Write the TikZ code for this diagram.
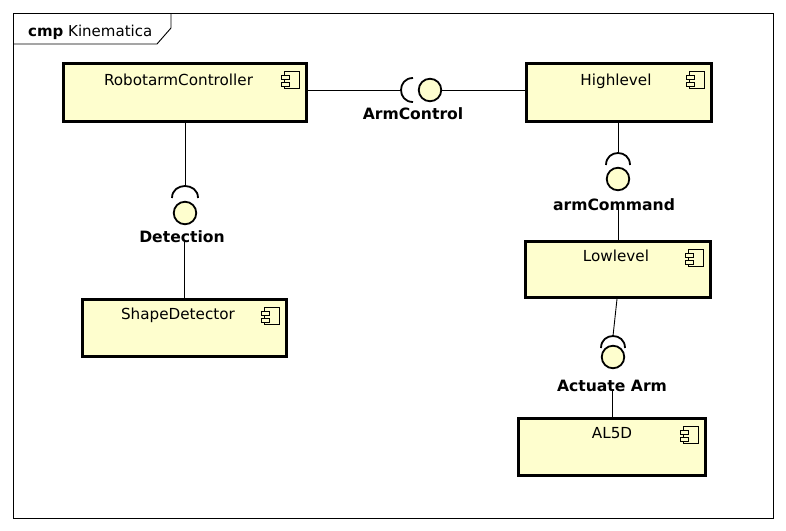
\documentclass[tikz,border=0pt]{standalone}
\usepackage{fontspec}
\setmainfont{DejaVu Sans}
\usetikzlibrary{calc}
\definecolor{compfill}{HTML}{FEFECE}
\tikzset{
  frameline/.style={draw=black, line width=0.9pt},
  compbox/.style={draw=black, line width=3pt, fill=compfill, rectangle, inner sep=0pt},
  compname/.style={font=\fontsize{15.2}{17}\selectfont, anchor=base, inner sep=0pt},
  iflabel/.style={font=\bfseries\fontsize{15.6}{17}\selectfont, anchor=base, inner sep=1pt},
  ball/.style={circle, draw=black, line width=1.8pt, fill=compfill, minimum size=22.5pt, inner sep=0pt},
  socketline/.style={draw=black, line width=1.8pt},
  conn/.style={draw=black, line width=0.9pt},
  iconline/.style={draw=black, line width=1pt, fill=compfill}
}
\newcommand{\compicon}[1]{%
  \draw[iconline] ($(#1.north east)+(-24,9)$) rectangle ($(#1.north east)+(-9,26)$);
  \draw[iconline] ($(#1.north east)+(-27,13)$) rectangle ($(#1.north east)+(-19,17)$);
  \draw[iconline] ($(#1.north east)+(-27,20)$) rectangle ($(#1.north east)+(-19,24)$);
}
\begin{document}
\begin{tikzpicture}[x=1pt,y=-1pt]
\useasboundingbox (0,0) rectangle (786,530);
\fill[white] (0,0) rectangle (786,530);
% frame
\draw[frameline] (13,13) rectangle (773,518);
\draw[frameline] (13,44) -- (157,44) -- (171,28) -- (171,13);
\node[anchor=base west, inner sep=0pt, font=\fontsize{15}{17}\selectfont] (title) at (28,36) {\textbf{cmp} Kinematica};

% components
\node[compbox, minimum width=243pt, minimum height=58pt] (rc) at (185,92.5) {};
\node[compbox, minimum width=185pt, minimum height=58pt] (hl) at (619,92.5) {};
\node[compbox, minimum width=185pt, minimum height=56pt] (ll) at (618,269.5) {};
\node[compbox, minimum width=204pt, minimum height=57pt] (sd) at (184.5,328) {};
\node[compbox, minimum width=187pt, minimum height=57pt] (al) at (612,447) {};

\node[compname] (rcl) at (178.5,85) {RobotarmController};
\node[compname] (hll) at (616,85) {Highlevel};
\node[compname] (lll) at (616,261.5) {Lowlevel};
\node[compname] (sdl) at (178,319.5) {ShapeDetector};
\node[compname] (all) at (612,438) {AL5D};

\compicon{rc}
\compicon{hl}
\compicon{ll}
\compicon{sd}
\compicon{al}

% ArmControl interface (horizontal)
\node[ball] (acb) at (430,90) {};
\coordinate (acs) at (401,90);
\draw[socketline] (413,78) .. controls (397,78) and (397,102) .. (413,102);
\node[iflabel] (acl) at (413,119) {ArmControl};
\draw[conn] (rc.east |- acs) -- (acs);
\draw[conn] (acb.east) -- (hl.west |- acb);

% Detection interface
\node[ball] (detb) at (185,213) {};
\coordinate (dets) at (185,186);
\draw[socketline] (172,198) .. controls (172,182) and (198,182) .. (198,198);
\node[iflabel] (detl) at (182,242) {Detection};
\draw[conn] (rc.south -| dets) -- (dets);
\draw[conn] ([xshift=2pt,yshift=1pt]detl.south) -- ([xshift=2pt]detl.south |- sd.north);

% armCommand interface
\node[ball] (acmb) at (618,179) {};
\coordinate (acms) at (618,153);
\draw[socketline] (606,165) .. controls (606,149) and (630,149) .. (630,165);
\node[iflabel] (acml) at (614,210) {armCommand};
\draw[conn] (hl.south -| acms) -- (acms);
\draw[conn] ([xshift=4pt,yshift=1pt]acml.south) -- ([xshift=4pt]acml.south |- ll.north);

% Actuate Arm interface
\node[ball] (aab) at (613,357) {};
\coordinate (aas) at (613,336);
\draw[socketline] (601,348) .. controls (601,332) and (625,332) .. (625,348);
\node[iflabel] (aal) at (612,391) {Actuate Arm};
\draw[conn] ([xshift=-1pt]ll.south) -- (aas);
\draw[conn] ([yshift=1pt]aal.south) -- (aal.south |- al.north);
\end{tikzpicture}
\end{document}
